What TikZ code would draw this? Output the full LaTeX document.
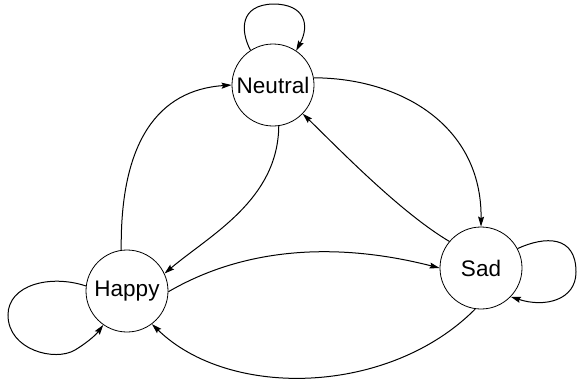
\documentclass[tikz,border=0pt]{standalone}
\usepackage{fontspec}
\setmainfont{Liberation Sans}
\usetikzlibrary{arrows.meta}
\begin{document}
\begin{tikzpicture}[x=1pt,y=-1pt,
  state/.style={draw, circle, minimum size=82pt, inner sep=0pt, line width=0.8pt,
    font=\fontsize{22.5}{26}\selectfont},
  edge/.style={draw, line width=1pt, -{Stealth[length=10pt,width=6pt,inset=1.5pt]}}]
\useasboundingbox (0,0) rectangle (577,386);
\node[state] (N) at (273,85) {Neutral};
\node[state] (H) at (127,291) {Happy};
\node[state] (S) at (481,268) {Sad};
% self loops
\path[edge] (N.123) .. controls (240,30) and (240,5) .. (273,4)
  .. controls (305,4) and (310,25) .. (N.56);
\path[edge] (H.173) .. controls (50,274) and (8,285) .. (8,315)
  .. controls (8,350) and (55,362) .. (75,350)
  .. controls (85,344) and (95,336) .. (H.235);
\path[edge] (S.28) .. controls (545,236) and (576,235) .. (576,272)
  .. controls (576,300) and (545,308) .. (S.-44);
% other edges
\path[edge] (N.10) .. controls (400,78) and (482,125) .. (S.90);
\path[edge] (S.140) .. controls (400,212) and (340,150) .. (N.-44);
\path[edge] (N.-82) .. controls (278,200) and (210,235) .. (H.25);
\path[edge] (H.98) .. controls (120,142) and (158,90) .. (N.180);
\path[edge] (H.-1) .. controls (240,250) and (330,240) .. (S.180);
\path[edge] (S.-98) .. controls (390,395) and (230,400) .. (H.-53);
\end{tikzpicture}
\end{document}
